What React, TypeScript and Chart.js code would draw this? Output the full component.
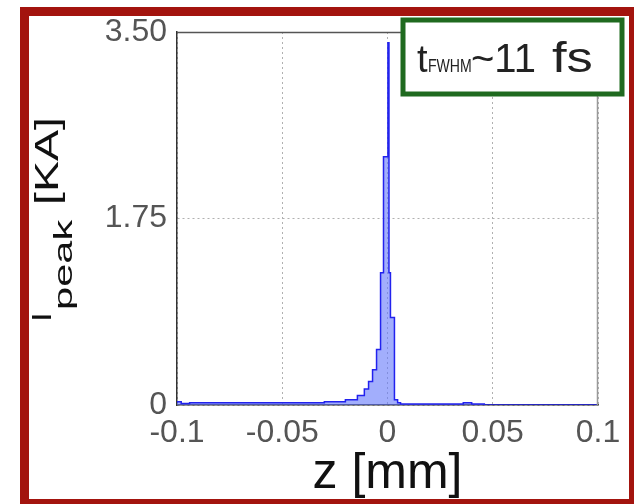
import React, { useEffect, useRef } from 'react';
import { Chart, registerables } from 'chart.js';

Chart.register(...registerables);

// Histogram edges along z [mm] (value holds until the next edge) and peak current [KA]
const zEdges = [
  -0.1, -0.098, -0.094, -0.088, -0.05, -0.03, -0.02, -0.0143, -0.011, -0.009,
  -0.0071, -0.0052, -0.0033, -0.0019, 0.0002, 0.0007, 0.0014, 0.0033, 0.0048,
  0.0062, 0.036, 0.04, 0.046, 0.05, 0.1,
];
const currentKA = [
  0.02, 0.03, 0.015, 0.02, 0.02, 0.02, 0.03, 0.05, 0.09, 0.15,
  0.22, 0.33, 0.52, 1.24, 2.33, 3.4, 1.24, 0.82, 0.05,
  0.02, 0.01, 0.02, 0.01, 0, 0,
];

const xTickValues = [-0.1, -0.05, 0, 0.05, 0.1];
const xTickLabels = ['-0.1', '-0.05', '0', '0.05', '0.1'];
const yTickValues = [0, 1.75, 3.5];
const yTickLabels = ['0', '1.75', '3.50'];

const xTitle = 'z [mm]';
const yTitleMain = 'I';
const yTitleSub = 'peak';
const yTitleUnit = '[KA]';
const noteMain = 't';
const noteSub = 'FWHM';
const noteValue = '~11 fs';

const FONT = '"Liberation Sans", Arial, Helvetica, sans-serif';

const decor = {
  id: 'decor',
  afterDraw(chart: any) {
    const ctx: CanvasRenderingContext2D = chart.ctx;
    const { left, right, top, bottom } = chart.chartArea;
    ctx.save();

    // remaining box lines (top / right)
    ctx.lineWidth = 1.5;
    ctx.strokeStyle = '#555';
    ctx.beginPath();
    ctx.moveTo(left, top + 0.5);
    ctx.lineTo(right, top + 0.5);
    ctx.stroke();
    ctx.strokeStyle = '#999';
    ctx.beginPath();
    ctx.moveTo(right - 0.5, top);
    ctx.lineTo(right - 0.5, bottom);
    ctx.stroke();

    // rotated y title
    const rot = (text: string, size: number, bx: number, sy: number, sAlong: number) => {
      ctx.save();
      ctx.translate(bx, sy);
      ctx.rotate(-Math.PI / 2);
      ctx.scale(sAlong, 1);
      ctx.font = `${size}px ${FONT}`;
      ctx.textAlign = 'left';
      ctx.textBaseline = 'alphabetic';
      ctx.fillText(text, 0, 0);
      ctx.restore();
    };
    ctx.fillStyle = '#111';
    rot(yTitleMain, 27, 51, 322, 1.3);
    rot(yTitleSub, 26, 72, 310, 1.6);
    rot(yTitleUnit, 34, 58, 205, 1.37);

    // annotation box
    ctx.fillStyle = '#fff';
    ctx.fillRect(403, 20, 219, 74);
    ctx.strokeStyle = '#1f6a1f';
    ctx.lineWidth = 5;
    ctx.strokeRect(403, 20, 219, 74);

    const txt = (text: string, size: number, x: number, y: number, sx: number) => {
      ctx.save();
      ctx.translate(x, y);
      ctx.scale(sx, 1);
      ctx.font = `${size}px ${FONT}`;
      ctx.textAlign = 'left';
      ctx.textBaseline = 'alphabetic';
      ctx.fillText(text, 0, 0);
      ctx.restore();
    };
    ctx.fillStyle = '#222';
    const [valA, valB] = noteValue.split(' ');
    txt(noteMain, 38, 417, 72, 1);
    txt(noteSub, 19, 428, 72, 0.74);
    txt(valA, 40, 471, 72, 1);
    txt(valB, 42, 552, 72, 1.25);

    // red frame
    ctx.fillStyle = '#a3140e';
    ctx.fillRect(20, 7, 614, 9);
    ctx.fillRect(20, 7, 9, 497);
    ctx.fillRect(629, 7, 5, 497);
    ctx.fillRect(20, 499, 614, 5);

    ctx.restore();
  },
};

export default function App() {
  const ref = useRef<HTMLCanvasElement | null>(null);

  useEffect(() => {
    if (!ref.current) return;
    const chart = new Chart(ref.current, {
      type: 'line',
      data: {
        datasets: [
          {
            data: zEdges.map((z, i) => ({ x: z, y: currentKA[i] })),
            stepped: 'after',
            fill: 'origin',
            backgroundColor: 'rgba(100,120,250,0.6)',
            borderColor: '#2222ee',
            borderWidth: 1.5,
            pointRadius: 0,
          },
        ],
      },
      options: {
        responsive: false,
        animation: false,
        devicePixelRatio: 1,
        layout: { padding: { left: 0, right: 36, top: 32, bottom: 0 } },
        plugins: {
          legend: { display: false },
          tooltip: { enabled: false },
        },
        scales: {
          x: {
            type: 'linear',
            min: -0.1,
            max: 0.1,
            afterBuildTicks: (s: any) => {
              s.ticks = xTickValues.map((v) => ({ value: v }));
            },
            afterFit: (s: any) => {
              s.height = 99;
              s.paddingLeft = 0;
              s.paddingRight = 0;
            },
            ticks: {
              callback: (v: any) => xTickLabels[xTickValues.indexOf(v)] ?? '',
              font: { family: FONT, size: 32 },
              color: '#555',
              padding: 9,
              maxRotation: 0,
              autoSkip: false,
            },
            grid: { color: '#b0b0b0', lineWidth: 1, drawTicks: false },
            border: { display: true, color: '#333', width: 1.5, dash: [2, 3] },
            title: {
              display: true,
              text: xTitle,
              font: { family: FONT, size: 50 },
              color: '#111',
              padding: { top: 0, bottom: 0 },
            },
          },
          y: {
            type: 'linear',
            min: 0,
            max: 3.5,
            afterBuildTicks: (s: any) => {
              s.ticks = yTickValues.map((v) => ({ value: v }));
            },
            afterFit: (s: any) => {
              s.width = 177;
            },
            ticks: {
              callback: (v: any) => yTickLabels[yTickValues.indexOf(v)] ?? '',
              font: { family: FONT, size: 32 },
              color: '#555',
              padding: 10,
              autoSkip: false,
            },
            grid: { color: '#b0b0b0', lineWidth: 1, drawTicks: false },
            border: { display: true, color: '#333', width: 1.5, dash: [2, 3] },
          },
        },
      },
      plugins: [decor],
    } as any);
    return () => chart.destroy();
  }, []);

  return (
    <div style={{ position: 'absolute', left: 0, top: 0, width: 634, height: 504, background: '#fff' }}>
      <canvas ref={ref} width={634} height={504} style={{ display: 'block' }} />
    </div>
  );
}
